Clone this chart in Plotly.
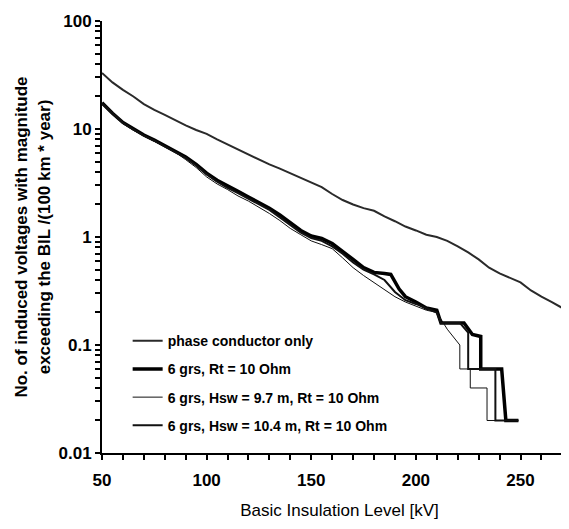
import plotly.graph_objects as go

# ---- data ----
phase_x = [50, 55, 60, 65, 70, 75, 80, 85, 90, 95, 100, 105, 110, 115, 120, 125, 130, 135, 140, 145,
           150, 155, 160, 165, 170, 175, 180, 185, 190, 195, 200, 205, 210, 215, 220, 225, 230, 235,
           240, 245, 250, 255, 260, 265, 270, 275, 277]
phase_y = [33, 27, 23, 20, 17, 15, 13.5, 12, 10.8, 9.8, 9.0, 8.0, 7.2, 6.5, 5.8, 5.2, 4.7, 4.3, 3.9, 3.5,
           3.2, 2.9, 2.5, 2.2, 2.0, 1.85, 1.75, 1.55, 1.4, 1.25, 1.15, 1.05, 1.0, 0.92, 0.82, 0.72, 0.62, 0.52,
           0.46, 0.42, 0.38, 0.32, 0.28, 0.25, 0.22, 0.20, 0.20]

rt_x = [50, 55, 60, 65, 70, 75, 80, 85, 90, 95, 100, 105, 110, 115, 120, 125, 130, 135, 140, 145,
        150, 155, 160, 165, 170, 175, 180, 185, 188, 192, 195, 200, 205, 210, 212, 223, 227, 231, 231, 241, 243, 249]
rt_y = [17.5, 14, 11.5, 10, 8.8, 7.9, 7.0, 6.3, 5.5, 4.7, 3.9, 3.35, 2.95, 2.65, 2.35, 2.1, 1.85, 1.6, 1.35, 1.15,
        1.02, 0.97, 0.87, 0.74, 0.62, 0.52, 0.47, 0.46, 0.45, 0.33, 0.28, 0.25, 0.22, 0.21, 0.16, 0.16, 0.125, 0.12, 0.06, 0.06, 0.02, 0.02]

h97_x = [50, 55, 60, 65, 70, 75, 80, 85, 90, 95, 100, 105, 110, 115, 120, 125, 130, 135, 140, 145,
         150, 155, 160, 165, 170, 175, 180, 185, 190, 195, 200, 205, 210, 215, 221, 221, 226, 226, 234, 234, 249]
h97_y = [17, 13.8, 11.2, 9.7, 8.6, 7.7, 6.8, 6.1, 5.2, 4.4, 3.6, 3.1, 2.75, 2.4, 2.15, 1.9, 1.65, 1.42, 1.2, 1.05,
         0.92, 0.85, 0.78, 0.64, 0.52, 0.44, 0.38, 0.33, 0.28, 0.25, 0.23, 0.21, 0.2, 0.14, 0.1, 0.06, 0.06, 0.04, 0.04, 0.02, 0.02]

h104_x = [50, 55, 60, 65, 70, 75, 80, 85, 90, 95, 100, 105, 110, 115, 120, 125, 130, 135, 140, 145,
          150, 155, 160, 165, 170, 175, 180, 185, 190, 195, 200, 205, 210, 212, 221, 225, 225, 238, 238, 249]
h104_y = [17.2, 13.9, 11.4, 9.9, 8.7, 7.8, 6.9, 6.2, 5.4, 4.6, 3.8, 3.25, 2.85, 2.55, 2.25, 2.0, 1.78, 1.52, 1.28, 1.1,
          0.98, 0.92, 0.82, 0.7, 0.58, 0.5, 0.45, 0.4, 0.31, 0.26, 0.24, 0.22, 0.2, 0.16, 0.16, 0.13, 0.06, 0.06, 0.02, 0.02]

series_names = ["phase conductor only", "6 grs, Rt = 10 Ohm",
                "6 grs, Hsw = 9.7 m, Rt = 10 Ohm", "6 grs, Hsw = 10.4 m, Rt = 10 Ohm"]

x_tick_labels = ["50", "100", "150", "200", "250"]
y_tick_labels = ["0.01", "0.1", "1", "10", "100"]

FONT = "Liberation Sans, Arial, sans-serif"

fig = go.Figure()
fig.add_trace(go.Scatter(x=phase_x, y=phase_y, mode="lines", name=series_names[0],
                         line=dict(color="#2a2a2a", width=2), legendgroup="a"))
fig.add_trace(go.Scatter(x=rt_x, y=rt_y, mode="lines", name=series_names[1],
                         line=dict(color="#000000", width=3.5), legendgroup="b"))
fig.add_trace(go.Scatter(x=h97_x, y=h97_y, mode="lines", name=series_names[2],
                         line=dict(color="#111111", width=1), legendgroup="c"))
fig.add_trace(go.Scatter(x=h104_x, y=h104_y, mode="lines", name=series_names[3],
                         line=dict(color="#111111", width=2), legendgroup="d"))

# tick positions
xt_vals = list(range(50, 280, 10))
xt_text = [str(v) if str(v) in x_tick_labels else "" for v in xt_vals]
yt_vals, yt_text = [], []
for d, lab in zip([0.01, 0.1, 1, 10], y_tick_labels[:-1]):
    for m in range(1, 10):
        yt_vals.append(round(d * m, 4))
        yt_text.append(lab if m == 1 else "")
yt_vals.append(100)
yt_text.append(y_tick_labels[-1])

fig.update_layout(
    width=569, height=529,
    margin=dict(l=94, r=0, t=13, b=84),
    paper_bgcolor="white", plot_bgcolor="white",
    font=dict(family=FONT, color="black"),
    showlegend=True,
    legend=dict(x=0.054, y=0.296, xanchor="left", yanchor="top",
                bgcolor="rgba(0,0,0,0)", tracegroupgap=7,
                font=dict(family=FONT, size=14, color="black", weight="bold")),
    xaxis=dict(range=[50, 277], tickvals=xt_vals, ticktext=xt_text,
               ticks="outside", ticklen=5, tickwidth=1.5, tickcolor="black",
               showline=True, linecolor="black", linewidth=2, showgrid=False, zeroline=False,
               ticklabelstandoff=6,
               tickfont=dict(family=FONT, size=17, color="black", weight="bold"),
               title=dict(text="Basic Insulation Level [kV]", standoff=15,
                          font=dict(family=FONT, size=17, color="black"))),
    yaxis=dict(type="log", range=[-2, 2], tickvals=yt_vals, ticktext=yt_text,
               ticks="outside", ticklen=5, tickwidth=1.5, tickcolor="black",
               showline=True, linecolor="black", linewidth=2, showgrid=False, zeroline=False,
               tickfont=dict(family=FONT, size=17, color="black", weight="bold"),
               title=dict(text="No. of induced voltages with magnitude<br>exceeding the BIL /(100 km * year)",
                          standoff=4,
                          font=dict(family=FONT, size=17, color="black", weight="bold"))),
)

fig.write_html("out.html")
